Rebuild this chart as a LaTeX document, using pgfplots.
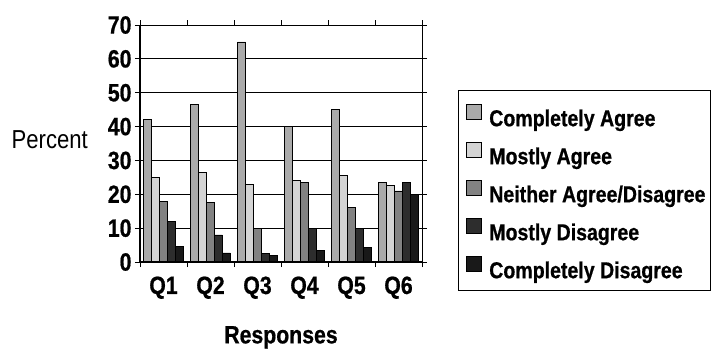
\documentclass[border=0pt]{standalone}
\usepackage{fontspec}
\setmainfont[FakeStretch=0.85, BoldFeatures={FakeBold=0.7}]{Liberation Sans}
\usepackage{pgfplots}
\pgfplotsset{compat=1.18}
\definecolor{cCA}{RGB}{170,170,170}
\definecolor{cMA}{RGB}{212,212,212}
\definecolor{cN}{RGB}{130,130,130}
\definecolor{cMD}{RGB}{45,45,45}
\definecolor{cCD}{RGB}{25,25,25}
\begin{document}
\begin{tikzpicture}
\useasboundingbox (-140bp,-89bp) rectangle (572bp,262bp);
\begin{axis}[
  at={(0,0)}, anchor=south west,
  scale only axis, clip=false,
  width=282bp, height=237bp,
  xmin=0, xmax=6, ymin=0, ymax=70,
  ytick={0,10,...,70},
  xtick={0,...,6},
  xticklabels={,Q1,Q2,Q3,Q4,Q5,Q6},
  x tick label style={xshift=-23.5bp, yshift=-6bp},
  tick align=outside,
  major tick length=5bp,
  tick style={black, line width=0.8bp},
  ticklabel style={font=\bfseries\fontsize{25bp}{29bp}\selectfont},
  /pgf/number format/assume math mode=true,
  ymajorgrids,
  grid style={black, line width=0.9bp},
  axis line style={line width=0.8bp},
  ybar=0pt,
  bar width=0.17,
  ylabel={Percent},
  ylabel style={rotate=-90, at={(axis description cs:-0.32,0.515)}, anchor=center, font=\fontsize{26bp}{30bp}\selectfont},
  xlabel={Responses},
  xlabel style={at={(axis description cs:0.5,-0.318)}, anchor=center, font=\bfseries\fontsize{25bp}{29bp}\selectfont},
  legend style={
    at={(rel axis cs:1.151,0.6835)}, anchor=north west,
    draw=none, fill=none,
    font=\bfseries\fontsize{23bp}{27bp}\selectfont,
    nodes={text height=17bp, text depth=5bp, inner sep=2bp},
    row sep=11bp,
    inner xsep=2bp, inner ysep=6bp,
    legend cell align=left,
    /tikz/every odd column/.append style={column sep=5.5bp},
  },
  legend image code/.code={\path[draw=none,fill=none] (0bp,-1bp) rectangle (15bp,14bp); \draw[#1,draw=black,line width=0.6bp,overlay] (0bp,1bp) rectangle (15bp,16bp);},
  every axis plot/.append style={draw=black, line width=0.7bp},
]
\addplot[fill=cCA] coordinates {(0.5,42) (1.5,46.5) (2.5,65) (3.5,40) (4.5,45) (5.5,23.5)};
\addplot[fill=cMA] coordinates {(0.5,25) (1.5,26.5) (2.5,23) (3.5,24) (4.5,25.5) (5.5,22.5)};
\addplot[fill=cN] coordinates {(0.5,18) (1.5,17.5) (2.5,10) (3.5,23.5) (4.5,16) (5.5,21)};
\addplot[fill=cMD] coordinates {(0.5,12) (1.5,8) (2.5,2.5) (3.5,10) (4.5,10) (5.5,23.5)};
\addplot[fill=cCD] coordinates {(0.5,4.5) (1.5,2.7) (2.5,2) (3.5,3.5) (4.5,4.2) (5.5,20)};
\legend{Completely Agree, Mostly Agree, Neither Agree/Disagree, Mostly Disagree, Completely Disagree}
\draw[line width=2bp] (rel axis cs:0,0) -- (rel axis cs:0,1);
\draw[line width=2bp] (rel axis cs:0,0) -- (rel axis cs:1,0);
\draw[line width=0.9bp] (rel axis cs:1.1277,0.7257) rectangle (rel axis cs:2.0213,-0.1181);
\end{axis}
\end{tikzpicture}
\end{document}
